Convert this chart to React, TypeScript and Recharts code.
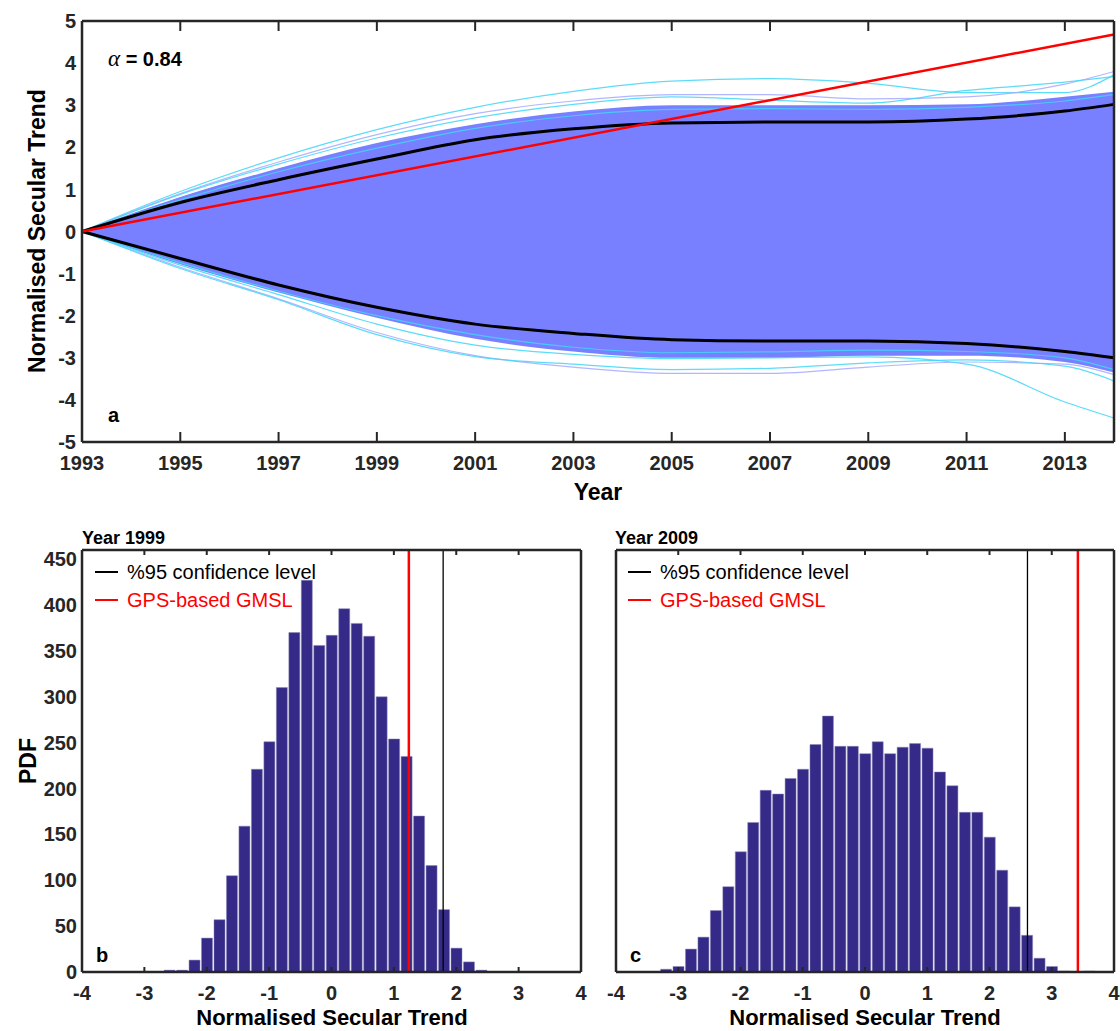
import React from "react";
import { ComposedChart, Area, Line, Bar, XAxis, YAxis, ReferenceLine } from "recharts";

// ---- panel a: ensemble of normalised secular trends ----
const yearPts = [1993, 1995, 1997, 1999, 2001, 2003, 2005, 2007, 2009, 2011, 2013, 2014];
const yearTicks = [1993, 1995, 1997, 1999, 2001, 2003, 2005, 2007, 2009, 2011, 2013];
const trendTicks = [-5, -4, -3, -2, -1, 0, 1, 2, 3, 4, 5];

// dense part of the ensemble
const ensembleUpper = [0, 0.82, 1.5, 2.1, 2.55, 2.85, 3.0, 3.0, 3.0, 3.02, 3.2, 3.32];
const ensembleLower = [0, -0.78, -1.45, -2.05, -2.55, -2.85, -3.0, -3.0, -2.95, -2.95, -3.1, -3.35];
// 95% confidence envelope
const ci95Upper = [0, 0.69, 1.23, 1.72, 2.18, 2.44, 2.58, 2.6, 2.6, 2.67, 2.86, 3.02];
const ci95Lower = [0, -0.64, -1.27, -1.8, -2.2, -2.42, -2.57, -2.6, -2.6, -2.66, -2.85, -3.0];
// GPS-based GMSL trend (straight line)
const gpsTrend = [0, null, null, null, null, null, null, null, null, null, null, 4.68];

// a few individual ensemble members visible outside the dense band
const memberTopA = [0, 0.95, 1.75, 2.42, 2.95, 3.33, 3.57, 3.63, 3.52, 3.3, 3.3, 3.72];
const memberTopB = [0, 0.9, 1.65, 2.3, 2.8, 3.1, 3.25, 3.25, 3.15, 3.2, 3.5, 3.8];
const memberTopC = [0, 0.88, 1.6, 2.22, 2.7, 3.02, 3.2, 3.12, 3.05, 3.35, 3.55, 3.68];
const memberTopD = [0, 0.75, 1.42, 1.98, 2.45, 2.75, 2.9, 2.92, 2.9, 2.95, 3.1, 3.25];
const memberLowA = [0, -0.85, -1.6, -2.4, -2.95, -3.22, -3.37, -3.37, -3.22, -3.1, -3.15, -3.4];
const memberLowB = [0, -0.88, -1.62, -2.45, -2.97, -3.15, -3.28, -3.25, -3.12, -3.05, -3.2, -3.55];
const memberLowC = [0, -0.8, -1.5, -2.2, -2.7, -2.92, -3.02, -3.0, -2.98, -3.15, -4.05, -4.43];
const memberLowD = [0, -0.74, -1.42, -2.0, -2.45, -2.75, -2.88, -2.86, -2.82, -2.85, -3.0, -3.28];

// ---- panels b, c: histograms ----
const pdfTicks = [0, 50, 100, 150, 200, 250, 300, 350, 400, 450];
const nstTicks = [-4, -3, -2, -1, 0, 1, 2, 3, 4];

const bins1999 = [-2.6, -2.4, -2.2, -2.0, -1.8, -1.6, -1.4, -1.2, -1.0, -0.8, -0.6, -0.4, -0.2, 0, 0.2, 0.4, 0.6, 0.8, 1.0, 1.2, 1.4, 1.6, 1.8, 2.0, 2.2, 2.4];
const counts1999 = [2, 2, 13, 37, 57, 105, 159, 221, 251, 310, 370, 427, 356, 367, 396, 380, 366, 300, 254, 235, 170, 116, 68, 26, 11, 2];
const conf1999 = 1.79;
const gps1999 = 1.24;

const bins2009 = [-3.2, -3.0, -2.8, -2.6, -2.4, -2.2, -2.0, -1.8, -1.6, -1.4, -1.2, -1.0, -0.8, -0.6, -0.4, -0.2, 0, 0.2, 0.4, 0.6, 0.8, 1.0, 1.2, 1.4, 1.6, 1.8, 2.0, 2.2, 2.4, 2.6, 2.8, 3.0, 3.2, 3.4, 3.6];
const counts2009 = [3, 6, 25, 38, 67, 93, 131, 163, 198, 194, 211, 221, 248, 279, 246, 246, 238, 251, 238, 245, 249, 244, 218, 203, 174, 174, 147, 111, 71, 40, 15, 6, 1, 0, 1];
const conf2009 = 2.61;
const gps2009 = 3.42;

const FONT = "'Liberation Sans', Arial, Helvetica, sans-serif";
const AX = "#262626";
const CYAN = "#3fd6f7";
const LAVENDER = "#a3a9ff";
const BAND = "#7880ff";
const BAR = "#352a87";

const members = [
  { key: "mTopA", values: memberTopA, color: CYAN },
  { key: "mTopB", values: memberTopB, color: LAVENDER },
  { key: "mTopC", values: memberTopC, color: CYAN },
  { key: "mTopD", values: memberTopD, color: CYAN },
  { key: "mLowA", values: memberLowA, color: LAVENDER },
  { key: "mLowB", values: memberLowB, color: CYAN },
  { key: "mLowC", values: memberLowC, color: CYAN },
  { key: "mLowD", values: memberLowD, color: CYAN },
];

const topData = yearPts.map((year, i) => {
  const row: any = {
    year,
    band: [ensembleLower[i], ensembleUpper[i]],
    ciUpper: ci95Upper[i],
    ciLower: ci95Lower[i],
    gps: gpsTrend[i],
  };
  members.forEach((m) => (row[m.key] = m.values[i]));
  return row;
});

const axisLine = { stroke: AX, strokeWidth: 2.5 };
const tickFont = { fill: AX, fontSize: 20, fontWeight: "bold", fontFamily: FONT };

// inward (MATLAB style) tick marks; axes use tickSize=0, so x/y is the axis line
// (bottom axis: y is shifted by its tickMargin). The right axis also draws the
// mirrored left-side ticks, plotW to its left.
const inTick = (side: string, len: number, margin: number, label: boolean, plotW = 0) => (props: any) => {
  const x = Number(props.x);
  const y = Number(props.y);
  const value = props.payload?.value;
  if (side === "bottom") {
    const ay = y - margin;
    return (
      <g>
        <line x1={x} x2={x} y1={ay} y2={ay - len} stroke={AX} strokeWidth={2} />
        {label && <text x={x} y={y} dy="0.71em" textAnchor="middle" {...tickFont}>{value}</text>}
      </g>
    );
  }
  if (side === "left")
    return (
      <g>
        {label && <text x={x - margin} y={y} dy="0.355em" textAnchor="end" {...tickFont}>{value}</text>}
      </g>
    );
  if (side === "top") return <line x1={x} x2={x} y1={y} y2={y + len} stroke={AX} strokeWidth={2} />;
  return (
    <g>
      <line x1={x} x2={x - len} y1={y} y2={y} stroke={AX} strokeWidth={2} />
      <line x1={x - plotW} x2={x - plotW + len} y1={y} y2={y} stroke={AX} strokeWidth={2} />
    </g>
  );
};

function Txt({ x, y, children, size = 20, weight = "bold", color = "#000", align = "center", rotate = 0, style = {} }: any) {
  const tx = align === "center" ? "-50%" : "0";
  return (
    <div
      style={{
        position: "absolute",
        left: x,
        top: y,
        transform: `translate(${tx}, -50%) rotate(${rotate}deg)`,
        whiteSpace: "nowrap",
        fontFamily: FONT,
        fontSize: size,
        fontWeight: weight,
        color,
        lineHeight: 1,
        ...style,
      }}
    >
      {children}
    </div>
  );
}

function LegendRow({ x, y, color, label }: any) {
  return (
    <>
      <div style={{ position: "absolute", left: x, top: y - 1, width: 23, height: 2, background: color }} />
      <Txt x={x + 32} y={y} align="left" size={20} weight="normal" color={color}>
        {label}
      </Txt>
    </>
  );
}

const TOP_W = 1120;
const TOP_LEFT = 82;
const TOP_RIGHT_MARGIN = 5;
const topPlotW = TOP_W - TOP_RIGHT_MARGIN - 1 - TOP_LEFT;

// left axis is 1px wide; the tick labels sit in the chart's left margin
const TrendPanel = () => (
  <div style={{ position: "absolute", left: 0, top: 0 }}>
    <ComposedChart width={TOP_W} height={510} data={topData} margin={{ top: 20, right: TOP_RIGHT_MARGIN, bottom: 0, left: TOP_LEFT - 1 }}>
      <XAxis dataKey="year" type="number" domain={[1993, 2014]} ticks={yearTicks} height={68} axisLine={axisLine} tickLine={false} tickSize={0} tickMargin={14} tick={inTick("bottom", 10, 14, true)} interval={0} />
      <XAxis xAxisId="top" orientation="top" dataKey="year" type="number" domain={[1993, 2014]} ticks={yearTicks} height={1} axisLine={axisLine} tickLine={false} tickSize={0} tickMargin={0} tick={inTick("top", 10, 0, false)} interval={0} />
      <YAxis type="number" domain={[-5, 5]} ticks={trendTicks} width={1} axisLine={axisLine} tickLine={false} tickSize={0} tickMargin={0} tick={inTick("left", 10, 6, true)} interval={0} />
      <YAxis yAxisId="right" orientation="right" type="number" domain={[-5, 5]} ticks={trendTicks} width={1} axisLine={axisLine} tickLine={false} tickSize={0} tickMargin={0} tick={inTick("right", 10, 0, false, topPlotW)} interval={0} />
      <Area dataKey="band" type="monotone" fill={BAND} fillOpacity={1} stroke="none" isAnimationActive={false} />
      {members.map((m) => (
        <Line key={m.key} dataKey={m.key} type="monotone" stroke={m.color} strokeWidth={1.2} strokeOpacity={0.85} dot={false} isAnimationActive={false} />
      ))}
      <Line dataKey="ciUpper" type="monotone" stroke="#000" strokeWidth={3} dot={false} isAnimationActive={false} />
      <Line dataKey="ciLower" type="monotone" stroke="#000" strokeWidth={3} dot={false} isAnimationActive={false} />
      <Line dataKey="gps" type="linear" connectNulls stroke="#ff0000" strokeWidth={2.5} dot={false} isAnimationActive={false} />
    </ComposedChart>
  </div>
);

function HistPanel({ left, width, plotLeft, rightMargin, showYLabels, bins, counts, conf, gps }: any) {
  const data = bins.map((x: number, i: number) => ({ x, n: counts[i] }));
  const plotW = width - rightMargin - 1 - plotLeft;
  const barSize = Math.max(1, Math.round((plotW / 8) * 0.2 - 1.5));
  return (
    <div style={{ position: "absolute", left, top: 520 }}>
      <ComposedChart width={width} height={511} data={data} margin={{ top: 29, right: rightMargin, bottom: 0, left: plotLeft - 1 }} barSize={barSize}>
        <XAxis dataKey="x" type="number" domain={[-4, 4]} ticks={nstTicks} height={59} axisLine={axisLine} tickLine={false} tickSize={0} tickMargin={14} tick={inTick("bottom", 5, 14, true)} interval={0} />
        <XAxis xAxisId="top" orientation="top" dataKey="x" type="number" domain={[-4, 4]} ticks={nstTicks} height={1} axisLine={axisLine} tickLine={false} tickSize={0} tickMargin={0} tick={inTick("top", 5, 0, false)} interval={0} />
        <YAxis type="number" domain={[0, 460]} ticks={pdfTicks} width={1} axisLine={axisLine} tickLine={false} tickSize={0} tickMargin={0} tick={inTick("left", 5, 5, showYLabels)} interval={0} />
        <YAxis yAxisId="right" orientation="right" type="number" domain={[0, 460]} ticks={pdfTicks} width={1} axisLine={axisLine} tickLine={false} tickSize={0} tickMargin={0} tick={inTick("right", 5, 0, false, plotW)} interval={0} />
        <Bar dataKey="n" fill={BAR} stroke="#8a86b8" strokeWidth={0.5} isAnimationActive={false} />
        <ReferenceLine x={conf} stroke="#000" strokeWidth={1.3} />
        <ReferenceLine x={gps} stroke="#ff0000" strokeWidth={2.5} />
      </ComposedChart>
    </div>
  );
}

export default function App() {
  return (
    <div style={{ position: "absolute", left: 0, top: 0, width: 1120, height: 1031, background: "#fff", fontFamily: FONT, overflow: "hidden" }}>
      <TrendPanel />
      <Txt x={37} y={231} size={23} rotate={-90}>Normalised Secular Trend</Txt>
      <Txt x={598} y={492} size={23}>Year</Txt>
      <Txt x={108} y={58} align="left" size={20}>
        <span style={{ fontFamily: "'Liberation Serif', 'DejaVu Serif', serif", fontStyle: "italic", fontWeight: "normal", fontSize: 23 }}>α</span> = 0.84
      </Txt>
      <Txt x={108} y={415} align="left" size={20}>a</Txt>

      <HistPanel left={0} width={600} plotLeft={82} rightMargin={18} showYLabels bins={bins1999} counts={counts1999} conf={conf1999} gps={gps1999} />
      <HistPanel left={600} width={520} plotLeft={16} rightMargin={5} showYLabels={false} bins={bins2009} counts={counts2009} conf={conf2009} gps={gps2009} />

      <Txt x={82} y={538} align="left" size={18}>Year 1999</Txt>
      <Txt x={615} y={538} align="left" size={18}>Year 2009</Txt>
      <Txt x={28} y={761} size={23} rotate={-90}>PDF</Txt>
      <LegendRow x={95} y={572} color="#000" label="%95 confidence level" />
      <LegendRow x={95} y={600} color="#ff0000" label="GPS-based GMSL" />
      <LegendRow x={628} y={572} color="#000" label="%95 confidence level" />
      <LegendRow x={628} y={600} color="#ff0000" label="GPS-based GMSL" />
      <Txt x={96} y={955} align="left" size={20}>b</Txt>
      <Txt x={630} y={955} align="left" size={20}>c</Txt>
      <Txt x={332} y={1018} size={22}>Normalised Secular Trend</Txt>
      <Txt x={865} y={1018} size={22}>Normalised Secular Trend</Txt>
    </div>
  );
}
